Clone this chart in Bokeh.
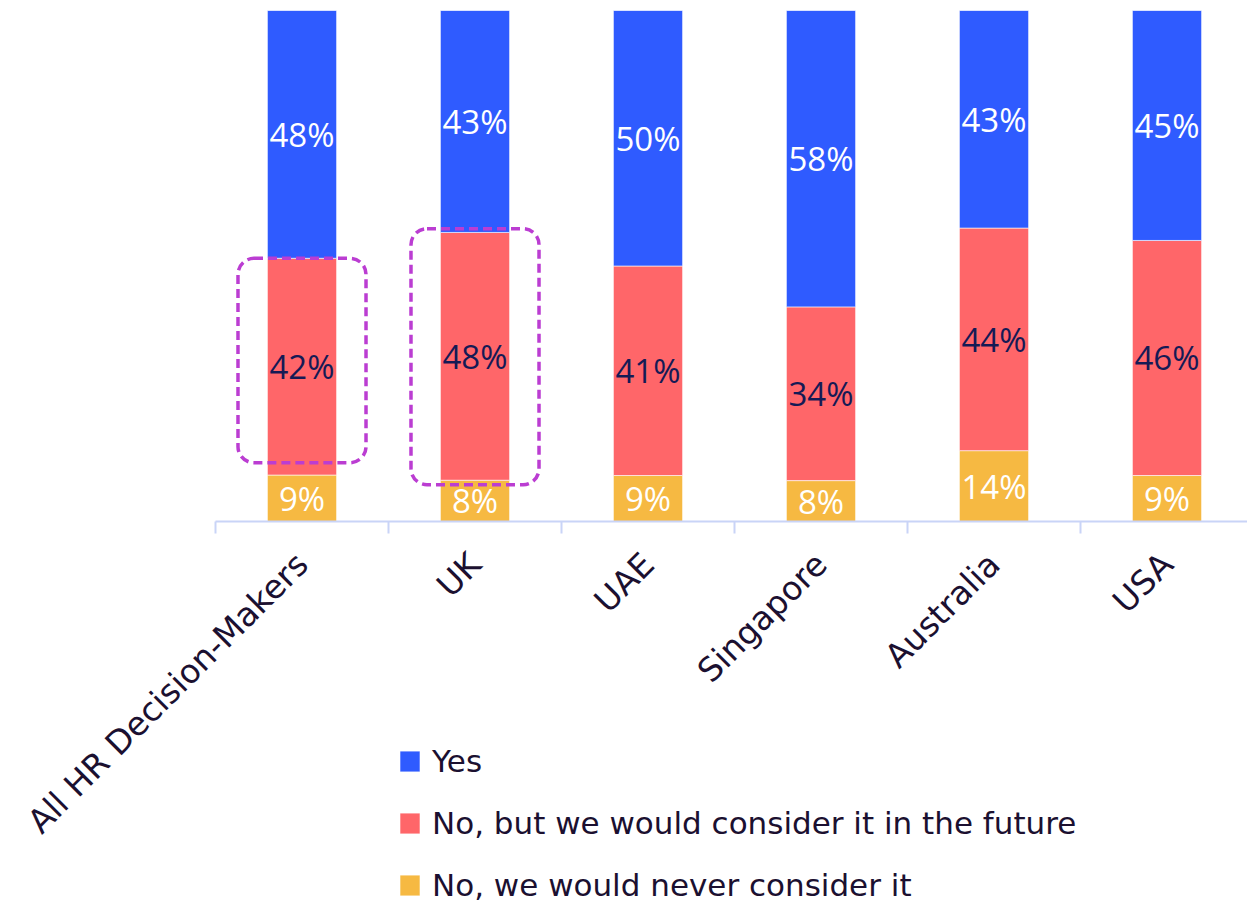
import numpy as np
from bokeh.plotting import figure
from bokeh.models import ColumnDataSource, Range1d, FixedTicker, Legend, LegendItem, BoxAnnotation
from bokeh.core.properties import value
from bokeh.embed import file_html
from bokeh.resources import INLINE

categories = ["All HR Decision-Makers", "UK", "UAE", "Singapore", "Australia", "USA"]
yes = [48, 43, 50, 58, 43, 45]
no_future = [42, 48, 41, 34, 44, 46]
never = [9, 8, 9, 8, 14, 9]
series_names = ["Yes", "No, but we would consider it in the future", "No, we would never consider it"]
# highlighted "No, but ..." segments: category index, box bottom (%), box top (%)
highlight_cats = [0, 1]
highlight_bottom = [11.5, 7.2]
highlight_top = [51.5, 57.3]

C_YES = "#2f5bff"
C_NOF = "#ff6669"
C_NEV = "#f6b942"
TXT = "#1b1030"
AXC = "#c9d4f7"

yes_a = np.array(yes, float)
nof_a = np.array(no_future, float)
nev_a = np.array(never, float)
tot = yes_a + nof_a + nev_a
s_yes = yes_a / tot * 100
s_nof = nof_a / tot * 100
s_nev = nev_a / tot * 100
xs = np.arange(len(categories)) + 0.5

src = ColumnDataSource(dict(
    x=xs, never=s_nev, nof=s_nof, yes=s_yes,
    y_nev=s_nev / 2, y_nof=s_nev + s_nof / 2, y_yes=s_nev + s_nof + s_yes / 2,
    t_nev=[f"{v}%" for v in never], t_nof=[f"{v}%" for v in no_future], t_yes=[f"{v}%" for v in yes],
))

# layout: frame covers the whole canvas below the top margin; the data region
# (categories 0..6, values 0..100) starts at x=215 px and ends at y=521 px
W, H, TOP, BASE, LEFT, STEP = 1247, 904, 10, 521, 215, 173.0
y_low = -100.0 * (H - BASE) / (BASE - TOP)
x_low = -LEFT / STEP
x_high = (W - LEFT) / STEP

p = figure(width=W, height=H, output_backend="svg", toolbar_location=None,
           x_range=Range1d(x_low, x_high), y_range=Range1d(y_low, 100),
           min_border_left=0, min_border_right=0, min_border_top=TOP, min_border_bottom=0)
p.outline_line_color = None
p.grid.visible = False
p.yaxis.visible = False

rs = p.vbar_stack(["never", "nof", "yes"], x="x", width=0.4, source=src,
                  color=[C_NEV, C_NOF, C_YES], line_color="white", line_width=0.6)

lab_font = value("Open Sans")
for ycol, tcol, col in [("y_nev", "t_nev", "white"), ("y_nof", "t_nof", "#151a55"), ("y_yes", "t_yes", "white")]:
    p.text(x="x", y=ycol, text=tcol, source=src, text_align="center", text_baseline="middle",
           text_font=lab_font, text_font_size="33px", text_color=col)

for i, b, t in zip(highlight_cats, highlight_bottom, highlight_top):
    p.add_layout(BoxAnnotation(left=xs[i] - 0.37, right=xs[i] + 0.37, bottom=b, top=t,
                               fill_alpha=0, line_color="#bb3dd2", line_alpha=1.0, line_width=3.5,
                               line_dash="9 5", border_radius=16))

ax = p.xaxis[0]
ax.fixed_location = 0
ax.bounds = (0, len(categories))
ax.ticker = FixedTicker(ticks=list(xs), minor_ticks=list(range(len(categories) + 1)))
ax.major_label_overrides = {float(x): c for x, c in zip(xs, categories)}
ax.major_label_orientation = np.pi / 4
ax.major_tick_line_color = None
ax.major_tick_out = 0
ax.major_tick_in = 0
ax.minor_tick_line_color = AXC
ax.minor_tick_line_width = 2
ax.minor_tick_out = 12
ax.minor_tick_in = 0
ax.axis_line_color = AXC
ax.axis_line_width = 2
ax.major_label_standoff = 25
ax.major_label_text_font = "DejaVu Sans"
ax.major_label_text_font_size = "33px"
ax.major_label_text_color = TXT

legend = Legend(items=[LegendItem(label=series_names[0], renderers=[rs[2]]),
                       LegendItem(label=series_names[1], renderers=[rs[1]]),
                       LegendItem(label=series_names[2], renderers=[rs[0]])],
                location=(397, 1), orientation="vertical",
                padding=0, margin=0, spacing=26, glyph_width=25, glyph_height=26,
                label_height=34, label_standoff=10,
                label_text_font="DejaVu Sans", label_text_font_size="31px", label_text_color=TXT,
                border_line_color=None, background_fill_alpha=0)
p.add_layout(legend, "center")

open("out.html", "w").write(file_html(p, INLINE))
